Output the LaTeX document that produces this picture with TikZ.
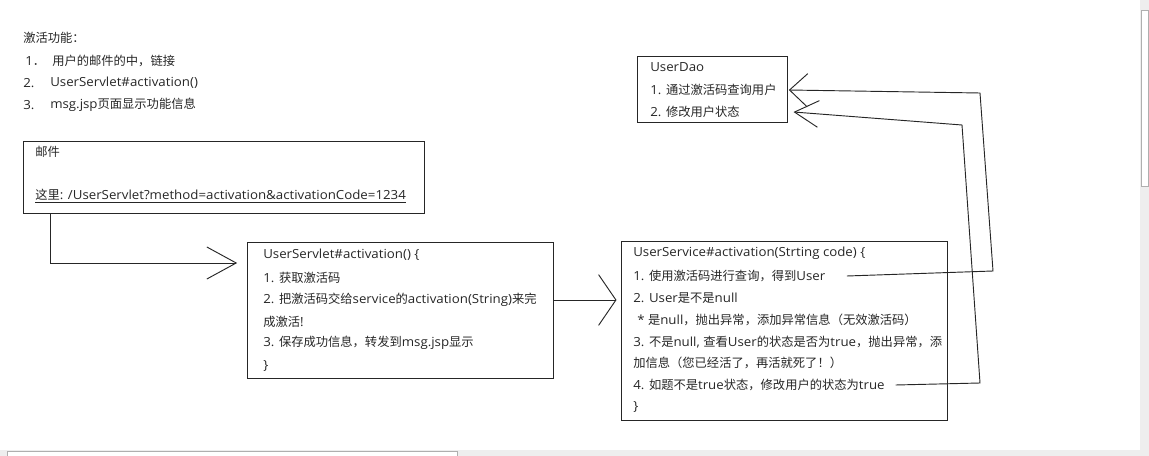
\documentclass[tikz,border=0pt]{standalone}
\usepackage{fontspec}
\setmainfont{Open Sans}[FakeStretch=1.06]
\newfontfamily\latinfont{Open Sans}[FakeStretch=1.06]
\newfontfamily\cjkfont{Noto Sans CJK SC}[Scale=0.98]
\usetikzlibrary{arrows.meta,fit}
\definecolor{inkline}{gray}{0.15}
\definecolor{barfill}{RGB}{238,238,238}
\definecolor{barline}{RGB}{175,175,175}

% Chinese letters in the CJK font, the rest in the Latin one
\XeTeXinterchartokenstate=1
\newXeTeXintercharclass\cjkclass
\count255="3000
\loop\ifnum\count255<"A000
  \XeTeXcharclass\count255=\cjkclass
  \advance\count255 by 1
\repeat
\count255="FF00
\loop\ifnum\count255<"FFF0
  \XeTeXcharclass\count255=\cjkclass
  \advance\count255 by 1
\repeat
\XeTeXinterchartoks 0 \cjkclass = {\cjkfont}
\XeTeXinterchartoks 4095 \cjkclass = {\cjkfont}
\XeTeXinterchartoks \cjkclass 0 = {\latinfont}
\XeTeXinterchartoks \cjkclass 4095 = {\latinfont}

\begin{document}
\begin{tikzpicture}[x=0.75pt,y=-0.75pt,
    txt/.style={anchor=west, inner sep=0pt, text=inkline, font=\fontsize{9.4}{11}\selectfont},
    box/.style={draw=inkline, line width=0.75pt, inner sep=0pt},
    link/.style={draw=inkline, line width=0.7pt},
    barb/.style 2 args={-{Straight Barb[length=#1, width=#2]}}]

    \useasboundingbox (0,0) rectangle (1149,456);

    % window scroll bars
    \fill[barfill] (1140,0) rectangle (1149,456);
    \fill[barfill] (0,450) rectangle (1149,456);
    \draw[barline, fill=white] (1141,10) rectangle (1148,186);
    \draw[barline, fill=white] (7,451) rectangle (457,456);

    % notes at the top left
    \node[txt] (title) at (23,38) {激活功能：};
    \node[txt] (n1) at (25,61) {1．};
    \node[txt] (t1) at (52,61) {用户的邮件的中，链接};
    \node[txt] (n2) at (23,83) {2.};
    \node[txt] (t2) at (50,83) {UserServlet\#activation()};
    \node[txt] (n3) at (23,105) {3.};
    \node[txt] (t3) at (50,105) {msg.jsp页面显示功能信息};

    % mail
    \node[box, fit={(23,142) (424,213)}] (mail) {};
    \node[txt] (mailhead) at (35,152) {邮件};
    \node[txt] (maillink) at (35,196) {\underline{这里: /UserServlet?method=activation\&activationCode=1234}};

    % UserServlet
    \node[box, fit={(247,242) (553,378)}] (servlet) {};
    \node[txt] (s0) at (263,255) {UserServlet\#activation() \{};
    \node[txt] (s1) at (263,278) {1. 获取激活码};
    \node[txt] (s2) at (263,300) {2. 把激活码交给service的activation(String)来完};
    \node[txt] (s3) at (263,322) {成激活!};
    \node[txt] (s4) at (263,343) {3. 保存成功信息，转发到msg.jsp显示};
    \node[txt] (s5) at (263,366) {\}};

    % UserService
    \node[box, fit={(621,241) (947,420)}] (service) {};
    \node[txt] (v0) at (633,253) {UserService\#activation(Strting code) \{};
    \node[txt] (v1) at (633,276) {1. 使用激活码进行查询，得到User};
    \node[txt] (v2) at (633,298) {2. User是不是null};
    \node[txt] (v3) at (637,320) {* 是null，抛出异常，添加异常信息（无效激活码）};
    \node[txt] (v4) at (633,342) {3. 不是null, 查看User的状态是否为true，抛出异常，添};
    \node[txt] (v5) at (633,363) {加信息（您已经活了，再活就死了！）};
    \node[txt] (v6) at (633,385) {4. 如题不是true状态，修改用户的状态为true};
    \node[txt] (v7) at (633,407) {\}};

    % UserDao
    \node[box, fit={(637,57) (787,123)}] (dao) {};
    \node[txt] (d0) at (650,67) {UserDao};
    \node[txt] (d1) at (650,90) {1. 通过激活码查询用户};
    \node[txt] (d2) at (650,112) {2. 修改用户状态};

    % bends of the connectors
    \coordinate (k1) at (50,263);
    \coordinate (c1) at (993,271);
    \coordinate (c2) at (980,93);
    \coordinate (c3) at (980,383);
    \coordinate (c4) at (962,125);

    \draw[link, barb={22pt}{24pt}] (mail.south -| k1) -- (k1) -- ([xshift=-7pt]servlet.west |- k1);
    \draw[link, barb={13pt}{38pt}] (servlet.east |- s2) -- ([xshift=-3pt]service.west |- s2);
    \draw[link, barb={13.5pt}{25pt}] ([xshift=16pt]v1.east) -- (c1) -- (c2) -- ([xshift=1pt]dao.east |- d1);
    \draw[link, barb={18pt}{20pt}] ([xshift=8pt]v6.east) -- (c3) -- (c4) -- ([xshift=4.5pt]dao.east |- d2);

\end{tikzpicture}
\end{document}
